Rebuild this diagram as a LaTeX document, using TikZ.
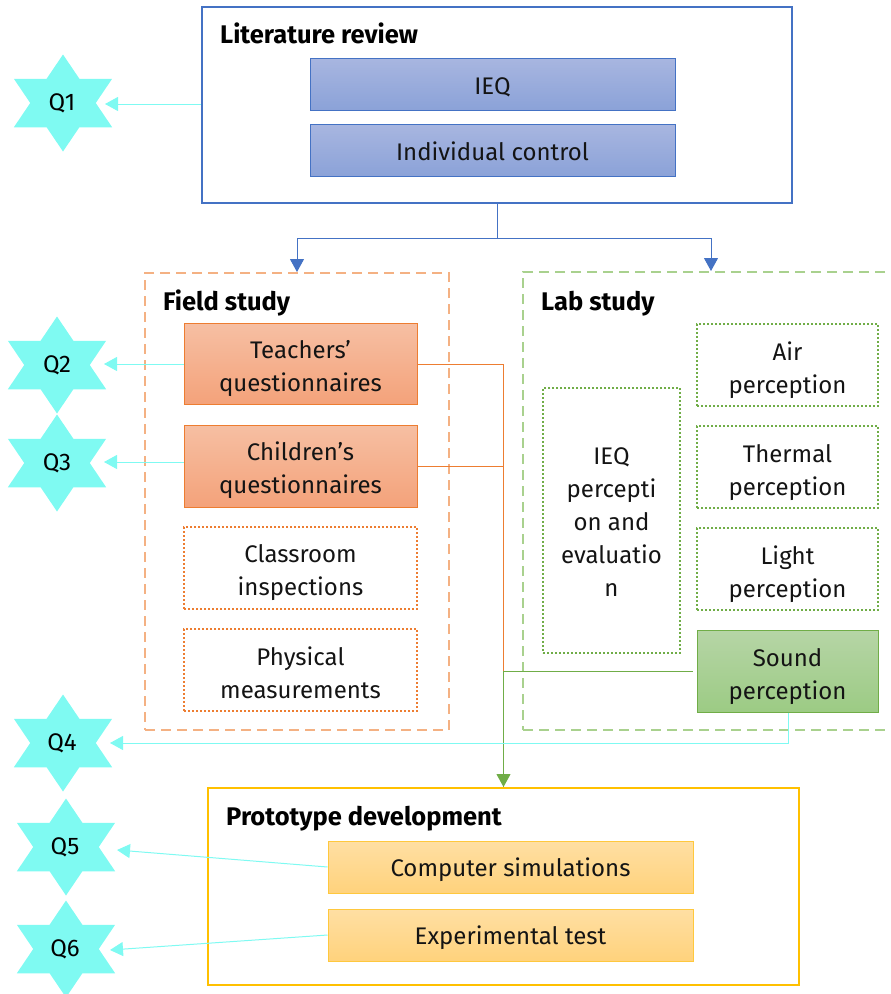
\documentclass[tikz,border=0pt]{standalone}
\usepackage{fontspec}
\setmainfont{Fira Sans}
\usetikzlibrary{arrows.meta,shapes.geometric,calc}
\definecolor{blueL}{HTML}{4472C4}
\definecolor{orangeL}{HTML}{ED7D31}
\definecolor{orangeD}{HTML}{F4B183}
\definecolor{greenL}{HTML}{70AD47}
\definecolor{greenD}{HTML}{A9D18E}
\definecolor{goldL}{HTML}{FFC000}
\definecolor{goldB}{HTML}{FFC83D}
\definecolor{cyanL}{HTML}{7FFAF2}
\definecolor{blueT}{HTML}{A8B6E0}
\definecolor{blueB}{HTML}{8BA2D8}
\definecolor{orT}{HTML}{F6BFA3}
\definecolor{orB}{HTML}{F4A27A}
\definecolor{grT}{HTML}{B6D5A6}
\definecolor{grB}{HTML}{9CCB84}
\definecolor{goT}{HTML}{FFDFA3}
\definecolor{goB}{HTML}{FFD27C}
\newcommand{\upstrut}[1]{\rule{0pt}{#1}}
\tikzset{
  body/.style={font=\fontsize{24}{33}\selectfont,align=center,inner sep=0pt,text=black!92},
  title/.style={font=\fontsize{25.5}{28}\selectfont\bfseries,anchor=base west,inner sep=0pt},
  box/.style n args={2}{body,minimum width=#1,minimum height=#2,rectangle},
  blueFill/.style={draw=blueL,line width=1pt,top color=blueT,bottom color=blueB},
  orFill/.style={draw=orangeL,line width=1pt,top color=orT,bottom color=orB},
  grFill/.style={draw=greenL,line width=1pt,top color=grT,bottom color=grB},
  goFill/.style={draw=goldB,line width=1pt,top color=goT,bottom color=goB},
  orDot/.style={draw=orangeL,line width=1.8pt,dash pattern=on 2pt off 2pt},
  grDot/.style={draw=greenL,line width=1.8pt,dash pattern=on 2pt off 2pt},
  frameO/.style={rectangle,draw=orangeD,line width=2pt,dash pattern=on 10pt off 6pt,minimum width=#1},
  frameG/.style={rectangle,draw=greenD,line width=2pt,dash pattern=on 10pt off 6pt,minimum width=#1},
  qstar/.style={star,star points=6,star point ratio=1.732,minimum size=97pt,inner sep=0pt,fill=cyanL,xscale=1.17,transform shape},
  qtext/.style={font=\fontsize{24}{28}\selectfont,inner sep=0pt},
  cyanArrow/.style={draw=cyanL,line width=1pt,-{Triangle[width=14pt,length=13pt,fill=cyanL]}},
  blueArrow/.style={draw=blueL,line width=1pt,-{Triangle[width=14pt,length=13pt,fill=blueL]}},
}
\begin{document}
\begin{tikzpicture}[x=1pt,y=-1pt]
\useasboundingbox (0,0) rectangle (891,994);
\clip (0,0) rectangle (891,994);
% stars
\node[qstar] (s1) at (63,103) {}; \node[qtext] (q1) at (62,103) {Q1};
\node[qstar] (s2) at (57,365) {}; \node[qtext] (q2) at (57,365) {Q2};
\node[qstar] (s3) at (57,463) {}; \node[qtext] (q3) at (57,463) {Q3};
\node[qstar] (s4) at (63,743) {}; \node[qtext] (q4) at (62,743) {Q4};
\node[qstar] (s5) at (66,847) {}; \node[qtext] (q5) at (65,847) {Q5};
\node[qstar] (s6) at (66,949) {}; \node[qtext] (q6) at (65,949) {Q6};
% frames
\node[rectangle,draw=blueL,line width=2pt,minimum width=590pt,minimum height=196pt] (lit) at (497,105) {};
\node[title] (litT) at (220,43) {Literature review};
\node[box={365pt}{52pt},blueFill] (ieq) at (492.5,84) {\upstrut{24pt}IEQ};
\node[box={365pt}{52pt},blueFill] (ind) at (492.5,150) {\upstrut{21pt}Individual control};
\node[frameO=304pt,minimum height=457pt] (field) at (297,501.5) {};
\node[title] (fieldT) at (163,310) {Field study};
\node[frameG=376pt,minimum height=458pt] (lab) at (711,501) {};
\node[title] (labT) at (541,310) {Lab study};
\node[rectangle,draw=goldL,line width=2pt,minimum width=591pt,minimum height=197pt] (proto) at (503.5,886.5) {};
\node[title] (protoT) at (226,825) {Prototype development};
% field boxes
\node[box={233pt}{81pt},orFill] (teach) at (300.5,364) {\upstrut{28pt}Teachers’\\questionnaires};
\node[box={233pt}{82pt},orFill] (child) at (300.5,466) {\upstrut{28pt}Children’s\\questionnaires};
\node[box={233pt}{82pt},orDot] (class) at (300.5,568) {\upstrut{28pt}Classroom\\inspections};
\node[box={233pt}{82pt},orDot] (phys) at (300.5,670) {\upstrut{24pt}Physical\\measurements};
% lab boxes
\node[box={137pt}{265pt},grDot] (iep) at (611.5,520.5) {\upstrut{19pt}IEQ\\percepti\\on and\\evaluatio\\n};
\node[box={181pt}{82pt},grDot] (air) at (787.5,365) {\upstrut{29pt}Air\\perception};
\node[box={181pt}{82pt},grDot] (therm) at (787.5,467) {\upstrut{29pt}Thermal\\perception};
\node[box={181pt}{82pt},grDot] (light) at (787.5,569) {\upstrut{29pt}Light\\perception};
\node[box={181pt}{82pt},grFill] (sound) at (787.5,671) {\upstrut{29pt}Sound\\perception};
% prototype boxes
\node[box={365pt}{52pt},goFill] (comp) at (510.5,867) {\upstrut{25pt}Computer simulations};
\node[box={365pt}{52pt},goFill] (exp) at (510.5,935) {\upstrut{25pt}Experimental test};
% connectors
\draw[blueL,line width=1pt] (lit.south) -- ++(0,34) coordinate (jn);
\draw[blueArrow] (jn) -| (field.north);
\draw[blueArrow] (jn) -| (lab.north);
\draw[orangeL,line width=1pt] (teach.east) -| (proto.north);
\draw[orangeL,line width=1pt] (child.east) -- (child.east -| proto.north);
\draw[greenL,line width=1pt,-{Triangle[width=14pt,length=13pt,fill=greenL]}] ([xshift=-4pt]sound.west) -| (proto.north);
\draw[cyanArrow] ([yshift=1pt]lit.west) -- ($(s1)+(42,1)$);
\draw[cyanArrow] (teach.west) -- ($(s2)+(47,-1)$);
\draw[cyanArrow] ([yshift=4pt]child.west) -- ($(s3)+(47,-1)$);
\draw[cyanArrow] ([xshift=0.5pt]sound.south) |- ($(s4)+(47,0)$);
\draw[cyanArrow] (comp.west) -- ($(s5)+(51,3)$);
\draw[cyanArrow] (exp.west) -- ($(s6)+(44,1)$);
\end{tikzpicture}
\end{document}
